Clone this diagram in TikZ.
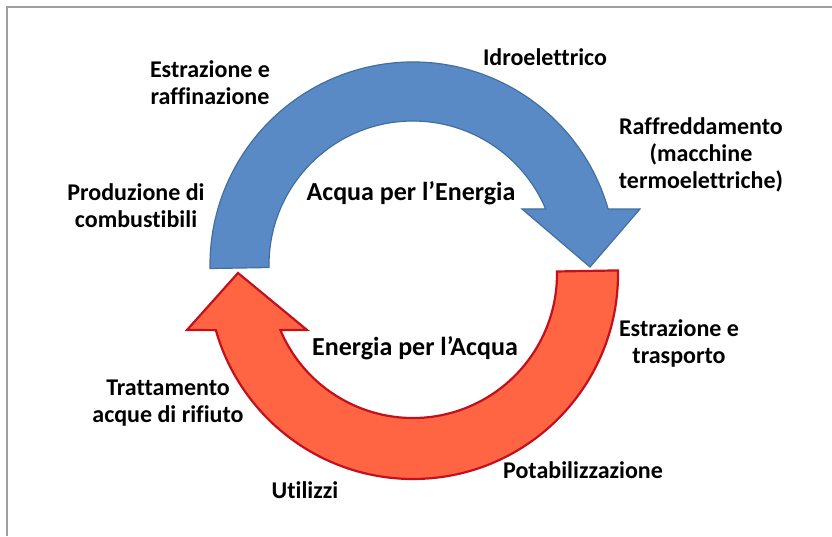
\documentclass[tikz,border=0pt]{standalone}
\usepackage{fontspec}
\setmainfont{Carlito}[Ligatures=NoCommon]
\definecolor{ciclob}{HTML}{5A8AC6}
\definecolor{ciclobd}{HTML}{41709F}
\definecolor{cicloa}{HTML}{FF6543}
\definecolor{cicload}{HTML}{C3101C}
\begin{document}
\begin{tikzpicture}[x=1pt, y=1pt,
  lab/.style={font=\bfseries\fontsize{24}{27}\selectfont, align=center, inner sep=0pt},
  titolo/.style={lab, font=\bfseries\fontsize{26}{30}\selectfont},
  freccia/.style={line join=miter, line width=#1}]
\useasboundingbox (0,0) rectangle (832,536);
\draw[gray!75, line width=1.2pt] (7,0) -- (7,529) -- (832,529);
\begin{scope}[shift={(413,271)}]
\filldraw[freccia=1.2pt, fill=ciclob, draw=ciclobd] (16:203) arc[start angle=16, end angle=181, radius=203]
  -- (181:144) arc[start angle=181, end angle=22.9, radius=144]
  -- (109,56) -- (177,-2) -- (227,56) -- cycle;
\end{scope}
\begin{scope}[shift={(413,262)}]
\filldraw[freccia=2.2pt, fill=cicloa, draw=cicload] (1:205) arc[start angle=1, end angle=-164.1, radius=205]
  -- (-226,-56) -- (-175,1) -- (-106,-56)
  -- (-157.1:144) arc[start angle=-157.1, end angle=1, radius=144] -- cycle;
\end{scope}
\node[lab] (estr) at (210,453) {Estrazione e\\raffinazione};
\node[lab] (idro) at (545,479) {Idroelettrico};
\node[lab] (raff) at (701,381) {Raffreddamento\\(macchine\\termoelettriche)};
\node[lab] (prod) at (136,330) {Produzione di\\combustibili};
\node[titolo] (ape) at (411,343) {Acqua per l’Energia};
\node[titolo] (epa) at (415,188) {Energia per l’Acqua};
\node[lab] (trasp) at (679,193) {Estrazione e\\trasporto};
\node[lab] (tratt) at (168,133) {Trattamento\\acque di rifiuto};
\node[lab] (util) at (305,46) {Utilizzi};
\node[lab] (pota) at (583,66) {Potabilizzazione};
\end{tikzpicture}
\end{document}
